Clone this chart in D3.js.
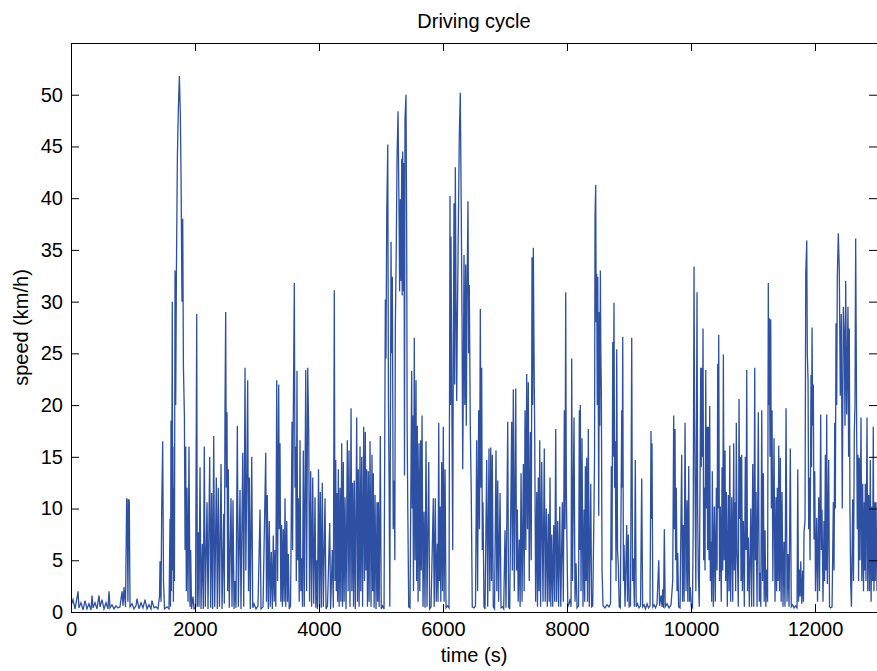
<!DOCTYPE html>
<html>
<head>
<meta charset="utf-8">
<script src="https://cdn.jsdelivr.net/npm/d3@7"></script>
<style>
  body { margin: 0; background: #fff; }
  text { font-family: "Liberation Sans", Arial, Helvetica, sans-serif; fill: #000; }
</style>
</head>
<body>
<div id="chart"></div>
<script>

// speed trace, [time (s), speed (km/h)] in blocks of ~2000 s
var trace0to2000 = [[0,0.6],[32,1.2],[65,0.3],[97,1.4],[113,2.0],[129,0.4],[161,0.9],[194,0.2],[226,1.1],[258,0.3],[290,0.8],[323,0.2],[339,1.6],[355,0.4],[387,0.9],[419,0.3],[452,1.6],[468,0.5],[500,1.2],[532,0.3],[565,0.9],[597,0.3],[613,2.0],[629,0.4],[661,0.7],[694,0.3],[726,0.6],[758,0.4],[790,0.5],[823,2.0],[839,0.6],[855,2.4],[879,0.5],[898,11.0],[906,10.8],[918,1.0],[930,10.9],[940,10.7],[952,0.5],[984,0.8],[1016,0.3],[1048,0.6],[1065,1.3],[1097,0.3],[1129,0.9],[1161,0.4],[1194,1.2],[1226,0.3],[1258,0.7],[1290,0.3],[1306,1.1],[1339,0.4],[1371,0.5],[1403,0.3],[1428,1.5],[1436,4.9],[1452,1.0],[1463,10.0],[1479,16.5],[1492,3.0],[1508,0.3],[1548,0.5],[1581,0.3],[1597,9.0],[1605,0.5],[1613,18.5],[1620,2.0],[1634,30.0],[1640,4.0],[1645,16.0],[1652,1.0],[1661,12.0],[1668,3.0],[1678,33.0],[1689,20.0],[1700,32.7],[1716,44.0],[1732,48.8],[1748,51.8],[1764,48.0],[1775,42.0],[1790,30.0],[1802,38.0],[1813,23.8],[1829,19.0],[1840,6.0],[1850,16.0],[1860,2.0],[1871,12.0],[1887,1.0],[1903,16.0],[1919,0.5],[1930,6.0],[1944,0.3],[1968,1.5],[1984,0.3]];

var trace2000to4000 = [[2008,0.4],[2028,28.8],[2037,0.5],[2053,7.7],[2065,0.5],[2081,14.0],[2097,0.3],[2118,6.6],[2134,0.3],[2150,16.0],[2166,0.5],[2194,10.6],[2210,0.3],[2237,15.0],[2253,0.4],[2269,11.5],[2285,0.3],[2302,17.0],[2318,0.5],[2344,13.0],[2360,0.3],[2376,12.0],[2395,0.5],[2420,14.3],[2436,0.3],[2463,9.5],[2473,0.8],[2484,19.7],[2495,29.0],[2505,12.0],[2516,19.3],[2527,2.0],[2537,13.8],[2553,0.4],[2581,11.0],[2597,0.5],[2613,10.8],[2629,0.3],[2645,3.0],[2661,0.4],[2683,18.0],[2699,0.5],[2726,11.8],[2742,0.3],[2770,15.4],[2786,0.5],[2807,23.6],[2820,4.0],[2850,22.4],[2863,2.0],[2876,13.0],[2892,0.3],[2915,15.0],[2931,0.4],[2952,0.8],[2984,0.3],[3016,0.6],[3049,9.9],[3065,0.3],[3097,0.5],[3141,15.4],[3153,1.0],[3166,11.3],[3182,0.3],[3198,8.8],[3214,0.5],[3231,5.8],[3247,0.3],[3263,7.4],[3277,1.0],[3290,6.0],[3303,0.5],[3318,22.4],[3332,3.0],[3350,22.0],[3360,8.0],[3371,16.3],[3384,1.0],[3397,8.4],[3410,0.5],[3424,8.0],[3438,1.0],[3452,11.0],[3464,0.5],[3480,8.8],[3493,1.0],[3505,5.6],[3520,0.3],[3541,0.6],[3565,18.4],[3574,6.0],[3586,19.5],[3602,31.8],[3613,12.0],[3624,16.0],[3634,3.0],[3645,23.3],[3655,5.0],[3666,11.0],[3681,1.0],[3694,16.6],[3707,2.0],[3721,5.2],[3734,0.5],[3747,15.6],[3763,0.5],[3786,23.4],[3800,2.0],[3818,23.6],[3834,17.4],[3848,1.0],[3866,13.6],[3881,0.5],[3899,13.0],[3915,0.8],[3936,11.1],[3949,0.4],[3963,5.0],[3975,0.3],[3992,13.8]];

var trace4000to6000 = [[4007,0.5],[4021,11.6],[4037,0.4],[4053,12.5],[4070,0.5],[4097,11.0],[4113,0.3],[4137,0.6],[4173,8.6],[4187,0.3],[4215,6.0],[4231,0.4],[4247,31.1],[4258,3.0],[4270,14.7],[4279,2.0],[4291,11.5],[4300,1.0],[4312,13.8],[4325,0.5],[4339,12.0],[4352,1.0],[4366,16.3],[4379,0.5],[4392,14.5],[4405,1.0],[4420,11.1],[4436,0.3],[4457,16.6],[4470,2.0],[4484,15.6],[4500,0.5],[4517,19.7],[4530,2.0],[4544,12.5],[4557,0.5],[4570,12.7],[4586,0.3],[4608,18.8],[4621,1.0],[4634,13.8],[4647,0.5],[4662,16.0],[4674,2.0],[4689,15.0],[4703,0.5],[4721,17.9],[4734,3.0],[4747,17.4],[4758,4.0],[4769,13.8],[4782,0.5],[4795,13.6],[4808,1.0],[4823,16.5],[4839,0.5],[4855,15.2],[4866,2.0],[4876,13.4],[4889,0.4],[4904,11.3],[4920,0.3],[4936,10.6],[4946,1.0],[4957,10.6],[4971,0.5],[4989,17.0],[5004,0.3],[5025,0.6],[5049,0.3],[5070,30.2],[5080,24.5],[5093,38.6],[5109,45.2],[5120,20.0],[5130,13.0],[5142,0.5],[5162,35.8],[5171,25.0],[5183,32.4],[5197,8.0],[5215,12.7],[5223,5.0],[5231,27.4],[5246,35.0],[5259,44.0],[5275,48.4],[5291,38.6],[5300,31.0],[5312,39.9],[5324,32.0],[5334,43.8],[5342,30.6],[5350,44.5],[5360,31.0],[5371,43.4],[5379,13.2],[5387,47.7],[5403,50.0],[5414,37.0],[5422,17.7],[5432,10.0],[5447,0.5],[5468,0.4],[5495,23.3],[5503,10.0],[5511,19.0],[5524,2.0],[5537,26.5],[5550,5.0],[5565,22.4],[5574,3.0],[5586,18.0],[5598,1.0],[5613,16.3],[5626,2.0],[5640,16.6],[5650,4.0],[5662,19.0],[5678,0.5],[5694,9.7],[5710,0.4],[5726,16.5],[5742,0.5],[5770,14.5],[5784,0.3],[5807,0.5],[5844,11.0],[5858,0.5],[5876,11.0],[5891,1.0],[5909,6.6],[5920,1.0],[5931,18.3],[5942,3.0],[5952,10.2],[5965,1.0],[5979,14.5],[5992,2.0]];

var trace6000to8000 = [[6005,17.9],[6018,1.0],[6033,13.8],[6049,0.4],[6073,0.6],[6097,0.4],[6113,40.2],[6121,20.0],[6129,36.3],[6145,18.0],[6157,6.0],[6166,25.0],[6178,39.5],[6188,22.0],[6199,43.0],[6210,30.0],[6221,20.4],[6231,28.0],[6242,34.0],[6263,46.0],[6279,50.2],[6295,38.4],[6307,28.0],[6318,13.8],[6328,22.0],[6339,34.5],[6352,20.0],[6366,33.6],[6376,18.0],[6387,30.2],[6403,39.7],[6414,25.0],[6424,31.6],[6440,18.0],[6456,11.3],[6472,0.5],[6500,0.4],[6524,0.6],[6543,16.6],[6558,2.0],[6575,19.5],[6588,8.0],[6602,29.3],[6613,12.0],[6624,23.6],[6634,6.0],[6645,10.6],[6661,0.5],[6678,0.3],[6705,14.7],[6721,0.5],[6742,15.8],[6755,2.0],[6770,15.9],[6782,3.0],[6795,15.2],[6811,0.5],[6831,0.3],[6855,15.6],[6868,2.0],[6883,12.7],[6897,1.0],[6920,11.5],[6936,0.4],[6960,0.5],[6979,0.3],[7000,7.9],[7016,0.4],[7044,18.4],[7058,0.5],[7076,0.3],[7108,18.4],[7119,4.0],[7134,21.5],[7150,2.0],[7173,21.6],[7186,4.0],[7199,9.9],[7213,1.0],[7231,7.0],[7244,0.5],[7259,13.4],[7275,1.0],[7296,14.3],[7309,2.0],[7323,19.5],[7336,6.0],[7350,23.0],[7363,8.0],[7376,22.2],[7391,3.0],[7409,17.4],[7423,5.0],[7436,34.3],[7446,20.0],[7457,35.2],[7468,25.0],[7479,17.4],[7494,1.0],[7512,11.6],[7524,0.5],[7537,13.0],[7549,2.0],[7560,16.6],[7574,0.5],[7592,14.5],[7613,1.0],[7634,15.8],[7649,1.0],[7666,10.0],[7683,0.5],[7699,9.5],[7713,1.0],[7726,13.0],[7739,0.5],[7754,7.5],[7770,0.5],[7786,8.4],[7802,1.0],[7818,17.7],[7832,1.0],[7850,8.8],[7865,0.5],[7883,10.2],[7900,0.5],[7925,10.6],[7941,1.0],[7957,19.5],[7968,8.0],[7979,30.9],[7989,12.0]];

var trace8000to10000 = [[8001,6.0],[8013,0.5],[8033,0.8],[8054,1.3],[8065,0.5],[8076,24.5],[8089,3.0],[8113,18.8],[8129,1.0],[8146,4.7],[8162,0.4],[8186,0.6],[8199,19.5],[8207,6.0],[8215,20.0],[8226,2.0],[8242,16.8],[8258,0.5],[8275,9.9],[8286,1.0],[8296,14.1],[8307,3.0],[8318,14.9],[8331,1.0],[8344,17.7],[8360,0.5],[8383,12.4],[8397,0.5],[8415,0.6],[8436,10.2],[8444,15.0],[8452,38.2],[8463,41.3],[8471,28.0],[8479,32.7],[8488,20.0],[8496,32.4],[8512,9.3],[8521,29.0],[8529,18.0],[8538,33.0],[8546,25.0],[8554,21.3],[8565,4.1],[8581,0.6],[8613,0.4],[8645,0.7],[8678,0.5],[8702,0.8],[8715,14.1],[8726,5.0],[8738,26.1],[8747,15.0],[8758,29.9],[8768,12.0],[8779,16.5],[8791,3.0],[8802,25.4],[8815,6.0],[8828,4.5],[8842,0.5],[8860,0.4],[8883,19.5],[8891,12.0],[8899,26.6],[8910,3.0],[8920,6.5],[8936,0.5],[8963,8.4],[8976,1.0],[8989,7.5],[9003,0.5],[9024,0.6],[9044,26.5],[9057,3.0],[9070,5.2],[9086,0.5],[9102,14.7],[9116,0.5],[9137,0.8],[9162,0.4],[9186,0.6],[9205,12.9],[9220,0.5],[9242,0.7],[9266,0.3],[9291,0.8],[9315,0.4],[9339,0.6],[9355,17.5],[9363,9.0],[9371,16.3],[9384,0.5],[9404,0.7],[9428,0.4],[9452,0.8],[9480,5.0],[9493,0.6],[9517,1.6],[9533,0.5],[9544,2.2],[9557,0.4],[9570,8.0],[9584,0.5],[9613,0.8],[9646,0.4],[9678,0.7],[9705,3.0],[9721,19.0],[9731,8.0],[9742,17.7],[9752,5.0],[9763,12.0],[9775,2.0],[9786,5.7],[9800,0.5],[9823,0.4],[9850,15.2],[9863,1.0],[9876,8.4],[9889,1.0],[9904,18.3],[9920,2.0],[9936,10.8],[9949,1.0],[9963,14.1],[9976,1.0],[9989,2.4]];

var trace10000to13000 = [[10005,0.5],[10024,0.4],[10035,8.0],[10049,33.4],[10057,20.0],[10065,12.4],[10078,2.0],[10097,30.9],[10107,10.0],[10118,3.8],[10133,0.5],[10157,23.6],[10165,14.0],[10173,23.6],[10183,15.0],[10194,27.4],[10204,5.0],[10215,12.0],[10226,4.0],[10238,23.4],[10247,10.0],[10259,17.9],[10268,6.0],[10280,17.9],[10291,5.0],[10302,19.9],[10312,3.0],[10323,6.8],[10333,1.0],[10344,13.6],[10360,0.5],[10376,10.2],[10392,1.0],[10409,12.0],[10420,4.0],[10431,24.0],[10439,10.0],[10447,26.8],[10460,3.0],[10473,10.2],[10488,1.0],[10501,14.0],[10512,4.0],[10522,24.9],[10535,5.0],[10549,15.6],[10559,3.0],[10570,11.6],[10586,0.5],[10602,11.3],[10614,2.0],[10625,16.1],[10639,1.0],[10657,11.1],[10673,1.0],[10689,16.3],[10699,4.0],[10710,10.6],[10720,2.0],[10731,18.3],[10742,6.0],[10754,3.8],[10763,0.5],[10775,20.6],[10784,9.0],[10796,15.0],[10807,3.0],[10818,15.2],[10829,2.0],[10844,8.8],[10860,0.5],[10876,15.0],[10888,6.0],[10899,23.4],[10912,2.0],[10925,7.2],[10941,0.5],[10964,10.0],[10978,0.5],[10996,14.3],[11012,0.5],[11028,23.6],[11038,5.0],[11049,11.6],[11065,0.5],[11086,19.3],[11101,1.0],[11114,3.8],[11126,0.5],[11141,19.5],[11154,3.0],[11167,13.4],[11180,1.0],[11194,7.9],[11207,0.5],[11222,4.1],[11235,1.0],[11247,31.8],[11255,20.0],[11263,28.4],[11275,15.0],[11286,28.3],[11296,10.0],[11307,19.5],[11320,3.0],[11339,16.8],[11355,1.0],[11371,11.1],[11381,2.0],[11392,12.0],[11404,3.0],[11415,16.1],[11428,2.0],[11441,14.9],[11454,1.0],[11468,11.6],[11484,0.5],[11500,6.8],[11516,0.5],[11533,19.7],[11549,1.0],[11565,5.6],[11581,0.5],[11602,15.8],[11617,0.5],[11638,0.7],[11662,0.4],[11686,0.6],[11710,0.4],[11722,13.8],[11734,1.0],[11747,4.1],[11759,1.5],[11770,4.9],[11786,0.8],[11802,4.0],[11814,1.0],[11823,7.7],[11839,8.8],[11851,32.7],[11867,35.9],[11876,25.0],[11888,22.4],[11898,8.0],[11909,13.0],[11920,5.0],[11936,22.9],[11944,14.0],[11952,27.5],[11963,18.0],[11973,22.0],[11984,7.0],[11996,13.6],[12008,2.0],[12028,9.1],[12041,1.0],[12060,11.1],[12073,2.0],[12092,19.1],[12102,6.0],[12113,9.9],[12129,1.0],[12145,8.8],[12155,3.0],[12167,15.2],[12178,4.0],[12189,19.1],[12199,2.7],[12221,14.7],[12234,0.5],[12250,0.4],[12275,0.5],[12296,10.6],[12307,4.0],[12318,18.3],[12328,10.0],[12339,27.9],[12350,20.0],[12360,32.4],[12376,36.6],[12392,33.0],[12408,20.9],[12424,28.8],[12440,10.0],[12457,29.5],[12473,26.6],[12484,18.0],[12495,32.0],[12511,19.1],[12532,29.5],[12542,15.0],[12553,27.4],[12564,10.0],[12576,2.7],[12588,0.5],[12608,10.9],[12621,3.0],[12634,17.4],[12645,20.0],[12656,36.1],[12672,17.7],[12682,8.0],[12693,15.2],[12703,3.0],[12714,14.9],[12726,5.0],[12742,18.8],[12755,3.0],[12769,12.4],[12782,2.0],[12795,10.6],[12803,4.0],[12811,12.4],[12822,3.0],[12839,18.8],[12851,2.0],[12866,11.3],[12879,2.0],[12892,14.7],[12905,1.0],[12919,10.2],[12929,3.0],[12940,17.9],[12951,2.0],[12963,10.6],[12972,3.0],[12984,10.6],[13000,2.0]];

var xTicks = [0, 2000, 4000, 6000, 8000, 10000, 12000];
var yTicks = [0, 5, 10, 15, 20, 25, 30, 35, 40, 45, 50];

var trace = [].concat(trace0to2000, trace2000to4000, trace4000to6000,
                      trace6000to8000, trace8000to10000, trace10000to13000);

var svgWidth = 877, svgHeight = 671;
// plot box in pixels (window.top is reserved, so no bare "top")
var box = {x0: 71, x1: 877, y0: 43, y1: 612};

var x = d3.scaleLinear().domain([0, 13000]).range([box.x0, box.x1]);
var y = d3.scaleLinear().domain([0, 55]).range([box.y1, box.y0]);

var svg = d3.select("#chart").append("svg")
    .attr("width", svgWidth)
    .attr("height", svgHeight);

svg.append("clipPath").attr("id", "plot-clip")
    .append("rect")
    .attr("x", box.x0).attr("y", box.y0)
    .attr("width", box.x1 - box.x0).attr("height", box.y1 - box.y0);

// the speed trace
svg.append("path")
    .datum(trace)
    .attr("clip-path", "url(#plot-clip)")
    .attr("fill", "none")
    .attr("stroke", "#2d50a3")
    .attr("stroke-width", 1.3)
    .attr("d", d3.line().x(d => x(d[0])).y(d => y(d[1])));

// box axes, MATLAB style ticks pointing inward
function styleAxis(g, showLabels) {
    g.select(".domain").attr("stroke", "#000");
    g.selectAll(".tick line").attr("stroke", "#000");
    g.selectAll(".tick text")
        .style("font-size", "20px")
        .attr("fill", "#000")
        .style("display", showLabels ? null : "none");
}

svg.append("g")
    .attr("transform", "translate(0," + box.y1 + ")")
    .call(d3.axisBottom(x).tickValues(xTicks).tickFormat(d3.format("d"))
        .tickSizeInner(-8).tickSizeOuter(0).tickPadding(10))
    .call(g => styleAxis(g, true));

svg.append("g")
    .attr("transform", "translate(0," + box.y0 + ")")
    .call(d3.axisTop(x).tickValues(xTicks).tickSizeInner(-8).tickSizeOuter(0))
    .call(g => styleAxis(g, false));

svg.append("g")
    .attr("transform", "translate(" + box.x0 + ",0)")
    .call(d3.axisLeft(y).tickValues(yTicks).tickFormat(d3.format("d"))
        .tickSizeInner(-8).tickSizeOuter(0).tickPadding(8))
    .call(g => styleAxis(g, true));

svg.append("g")
    .attr("transform", "translate(" + box.x1 + ",0)")
    .call(d3.axisRight(y).tickValues(yTicks).tickSizeInner(-8).tickSizeOuter(0))
    .call(g => styleAxis(g, false));

// title and labels
svg.append("text")
    .attr("x", (box.x0 + box.x1) / 2)
    .attr("y", 28)
    .attr("text-anchor", "middle")
    .style("font-size", "20px")
    .text("Driving cycle");

svg.append("text")
    .attr("x", (box.x0 + box.x1) / 2)
    .attr("y", 662)
    .attr("text-anchor", "middle")
    .style("font-size", "20px")
    .text("time (s)");

svg.append("text")
    .attr("transform", "translate(28," + (box.y0 + box.y1) / 2 + ") rotate(-90)")
    .attr("text-anchor", "middle")
    .style("font-size", "20px")
    .text("speed (km/h)");

</script>
</body>
</html>
